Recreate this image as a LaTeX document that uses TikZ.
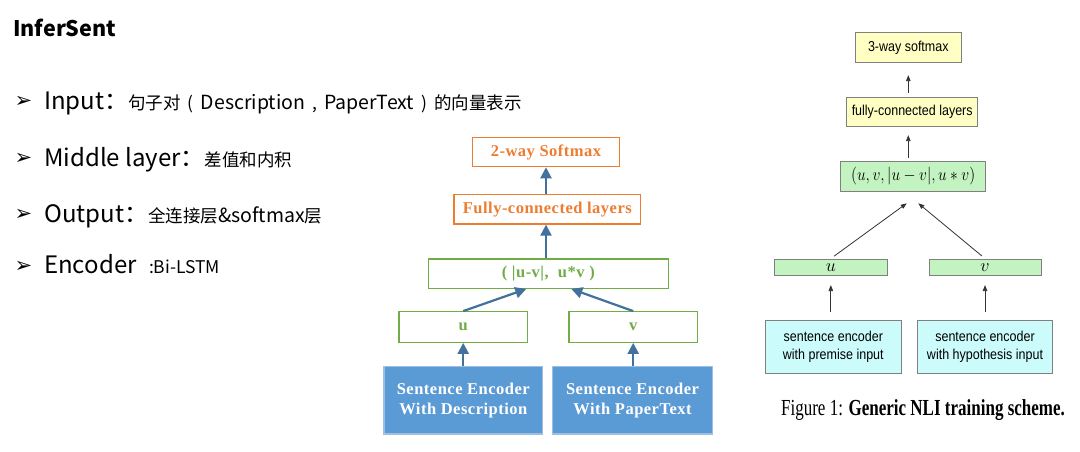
\RequirePackage{fix-cm}
\documentclass[tikz,border=0pt]{standalone}
\usepackage{fontspec}
\usepackage{graphicx}
\usetikzlibrary{arrows.meta}

\newfontfamily\cjk{Noto Sans CJK SC}
\newfontfamily\tms{Liberation Serif}
\newfontfamily\tmswide[LetterSpace=3]{Liberation Serif}
\newfontfamily\arl{Liberation Sans}
\newfontfamily\dejavu{DejaVu Sans}

\definecolor{orangeC}{HTML}{ED7D31}
\definecolor{greenC}{HTML}{70AD47}
\definecolor{blueFill}{HTML}{5B9BD5}
\definecolor{blueEdge}{HTML}{9DBFE4}
\definecolor{arrowBlue}{HTML}{41719C}
\definecolor{yellowFill}{HTML}{FFFFC4}
\definecolor{mintFill}{HTML}{C2F3C0}
\definecolor{cyanFill}{HTML}{CCFBFB}
\definecolor{boxGray}{HTML}{808080}

\tikzset{
  orangebox/.style={draw=orangeC, line width=1.2pt, text=orangeC, inner sep=0pt,
    font=\tmswide\bfseries\fontsize{16.5}{18}\selectfont},
  greenbox/.style={draw=greenC, line width=1.2pt, text=greenC, inner sep=0pt,
    font=\tmswide\bfseries\fontsize{16.5}{18}\selectfont},
  encbox/.style={draw=blueEdge, line width=1.5pt, fill=blueFill, text=white, inner sep=0pt,
    align=center, font=\tmswide\bfseries\fontsize{16.5}{20.5}\selectfont},
  flow/.style={arrowBlue, line width=2.2pt, -{Triangle[length=11pt,width=11pt]}},
  paperbox/.style={draw=boxGray, line width=0.8pt, inner sep=0pt,
    font=\arl\fontsize{12.5}{18.5}\selectfont},
  thin arrow/.style={black!80, line width=0.8pt, -{Triangle[length=6pt,width=4.5pt]}},
  bullet/.style={inner sep=0pt, font=\dejavu\fontsize{21}{21}\selectfont},
  item/.style={anchor=base west, inner sep=0pt, font=\cjk}
}

\newcommand{\bigsz}{\fontsize{24}{28}\selectfont}
\newcommand{\smallsz}{\fontsize{17.5}{20}\selectfont}
\newcommand{\latsz}{\fontsize{19.5}{20}\selectfont}
\newcommand{\tall}[1]{\scalebox{1}[1.15]{#1}}
\newcommand{\gp}{\hspace{7pt}}

\begin{document}
\begin{tikzpicture}[x=1pt, y=-1pt]

  \fill[white] (0,0) rectangle (1080,452);
  \useasboundingbox (0,0) rectangle (1080,452);

  %% ---- Title and bullet list ----
  \node[item, font=\cjk\bfseries\fontsize{21.5}{24}\selectfont] (title) at (13,37) {InferSent};

  \node[bullet] (b1) at (23.5,102) {➢};
  \node[bullet] (b2) at (23.5,159) {➢};
  \node[bullet] (b3) at (23.5,215) {➢};
  \node[bullet] (b4) at (23.5,267) {➢};

  \node[item] (input) at (44,110)
    {\bigsz Input：\smallsz 句子对\gp(\gp{\latsz Description}\gp,\gp{\latsz PaperText}\gp)\gp 的向量表示};
  \node[item] (middle) at (44,166.5)
    {\bigsz Middle layer：\smallsz 差值和内积};
  \node[item] (output) at (44,222.5)
    {\bigsz Output：\smallsz 全连接层{\latsz \&softmax}层};
  \node[item] (encoder) at (44,273.5)
    {\bigsz Encoder \smallsz\hspace{7pt}:Bi-LSTM};

  %% ---- Our model (middle) ----
  \node[orangebox, minimum width=146.6pt, minimum height=29.4pt] (soft2) at (546,152) {2-way Softmax};
  \node[orangebox, minimum width=186.7pt, minimum height=29.7pt] (fc2) at (547.3,209.2) {Fully-connected layers};
  \node[greenbox, minimum width=240pt, minimum height=29.3pt] (feat2) at (548.3,273.7) {( |u-v|,\ \ u*v )};
  \node[greenbox, minimum width=128.3pt, minimum height=30.6pt] (u2) at (463.2,327) {u};
  \node[greenbox, minimum width=128.3pt, minimum height=30.6pt] (v2) at (633.2,327) {v};
  \node[encbox, minimum width=158.7pt, minimum height=67.3pt] (descenc) at (463.3,400.3)
    {Sentence Encoder\\With Description};
  \node[encbox, minimum width=159.6pt, minimum height=67.3pt] (paperenc) at (632.5,400.3)
    {Sentence Encoder\\With PaperText};

  \draw[flow] (descenc.north -| u2) -- (u2.south);
  \draw[flow] (paperenc.north -| v2) -- (v2.south);
  \draw[flow] (u2.north) -- ([xshift=-22pt]feat2.south);
  \draw[flow] (v2.north) -- ([xshift=23pt]feat2.south);
  \draw[flow] (feat2.north -| soft2) -- (fc2.south -| soft2);
  \draw[flow] (fc2.north -| soft2) -- (soft2.south);

  %% ---- Generic NLI scheme (right) ----
  \node[paperbox, fill=yellowFill, minimum width=105.3pt, minimum height=30pt] (soft3) at (908.3,47.7) {\tall{3-way softmax}};
  \node[paperbox, fill=yellowFill, minimum width=131pt, minimum height=29.4pt] (fc3) at (912.2,112) {\tall{fully-connected layers}};
  \node[paperbox, fill=mintFill, minimum width=145pt, minimum height=30pt,
    font=\fontsize{15.5}{18}\selectfont] (feat3) at (913.2,176) {\tall{$(u,v,|u-v|,u*v)$}};
  \node[paperbox, fill=mintFill, minimum width=113pt, minimum height=16.7pt,
    font=\fontsize{18}{16}\selectfont] (u3) at (830.8,267.3) {$u$};
  \node[paperbox, fill=mintFill, minimum width=112pt, minimum height=16.7pt,
    font=\fontsize{18}{16}\selectfont] (v3) at (985,267.3) {$v$};
  \node[paperbox, fill=cyanFill, minimum width=135.3pt, minimum height=52.6pt, align=center] (premise) at (833.3,347)
    {\tall{sentence encoder}\\\tall{with premise input}};
  \node[paperbox, fill=cyanFill, minimum width=135.4pt, minimum height=52.6pt, align=center] (hypo) at (985,347)
    {\tall{sentence encoder}\\\tall{with hypothesis input}};

  %% arrow tips stop short of the feature box
  \coordinate (tipL) at (906.7,203.3);
  \coordinate (tipR) at (918.3,203.3);

  \draw[thin arrow, shorten <=8pt, shorten >=9pt] (premise.north -| u3) -- (u3.south);
  \draw[thin arrow, shorten <=8pt, shorten >=9pt] (hypo.north -| v3) -- (v3.south);
  \draw[thin arrow, shorten <=4pt] (u3.north) -- (tipL);
  \draw[thin arrow, shorten <=4pt] (v3.north) -- (tipR);
  \draw[thin arrow, shorten <=3pt, shorten >=8pt] (feat3.north -| soft3) -- (fc3.south -| soft3);
  \draw[thin arrow, shorten <=4pt, shorten >=12pt] (fc3.north -| soft3) -- (soft3.south);

  \node[inner sep=0pt, font=\tms\fontsize{17}{20}\selectfont] (caption) at (923,410)
    {\scalebox{1}[1.35]{Figure 1: \textbf{Generic NLI training scheme.}}};

\end{tikzpicture}
\end{document}
